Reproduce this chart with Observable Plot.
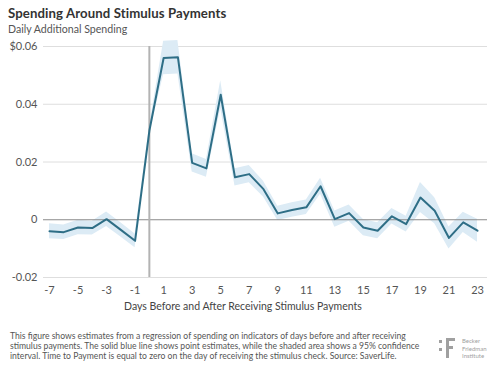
<!DOCTYPE html>
<html>
<head>
<meta charset="utf-8">
<script src="https://cdn.jsdelivr.net/npm/d3@7"></script>
<script src="https://cdn.jsdelivr.net/npm/@observablehq/plot@0.6"></script>
<style>
  body { margin: 0; background: #fff; width: 500px; height: 368px; overflow: hidden; font-family: Lato, "Open Sans", sans-serif; }
  #wrap { position: relative; width: 500px; height: 368px; }
  #title { position: absolute; left: 8px; top: 5px; font-size: 13.2px; font-weight: 700; color: #333; letter-spacing: 0.1px; }
  #subtitle { position: absolute; left: 8px; top: 23px; font-size: 10.6px; color: #555; }
  #chart { position: absolute; left: 0; top: 38px; }
  #xlabel { position: absolute; left: 0; width: 486px; text-align: center; top: 300px; font-size: 10.5px; color: #444; }
  #caption { position: absolute; left: 10px; top: 331px; font-size: 8.6px; line-height: 10px; color: #555; width: 420px; white-space: nowrap; }
  #logo { position: absolute; left: 438px; top: 336px; }
</style>
</head>
<body>
<div id="wrap">
  <div id="title">Spending Around Stimulus Payments</div>
  <div id="subtitle">Daily Additional Spending</div>
  <div id="chart"></div>
  <div id="xlabel"></div>
  <div id="caption">This figure shows estimates from a regression of spending on indicators of days before and after receiving<br>stimulus payments. The solid blue line shows point estimates, while the shaded area shows a 95% confidence<br>interval. Time to Payment is equal to zero on the day of receiving the stimulus check. Source: SaverLife.</div>
  <svg id="logo" width="60" height="26">
    <rect x="1" y="4" width="3" height="3" fill="#a0a0a0"/>
    <rect x="1" y="12" width="3" height="3" fill="#a0a0a0"/>
    <rect x="8" y="2" width="3" height="20" fill="#a0a0a0"/>
    <rect x="8" y="2" width="9" height="3" fill="#a0a0a0"/>
    <rect x="8" y="10" width="7" height="3" fill="#a0a0a0"/>
    <text x="24" y="7" font-size="6" fill="#a0a0a0" font-family="Lato, sans-serif">Becker</text>
    <text x="24" y="14.5" font-size="6" fill="#a0a0a0" font-family="Lato, sans-serif">Friedman</text>
    <text x="24" y="22" font-size="6" fill="#a0a0a0" font-family="Lato, sans-serif">Institute</text>
  </svg>
</div>
<script>
const days = [-7,-6,-5,-4,-3,-2,-1,0,1,2,3,4,5,6,7,8,9,10,11,12,13,14,15,16,17,18,19,20,21,22,23];
const estimates = [-0.0040,-0.0043,-0.0027,-0.0029,0.0002,-0.0035,-0.0073,0.0308,0.0560,0.0563,0.0197,0.0178,0.0433,0.0147,0.0158,0.0106,0.0022,0.0034,0.0043,0.0116,0.0002,0.0023,-0.0027,-0.0038,0.0012,-0.0015,0.0077,0.0031,-0.0063,-0.0009,-0.0038];
const ciHalf = [0.0026,0.0025,0.0025,0.0024,0.0025,0.0025,0.0024,0.0012,0.0058,0.0058,0.0032,0.0031,0.0048,0.0030,0.0030,0.0027,0.0025,0.0025,0.0025,0.0028,0.0028,0.0028,0.0028,0.0028,0.0027,0.0027,0.0052,0.0045,0.0038,0.0035,0.0040];
const xTicks = [-7,-5,-3,-1,1,3,5,7,9,11,13,15,17,19,21,23];
const yTicks = [-0.02,0,0.02,0.04,0.06];
const yTickLabels = ["-0.02","0","0.02","0.04","$0.06"];
const xLabel = "Days Before and After Receiving Stimulus Payments";

document.getElementById("xlabel").textContent = xLabel;

const data = days.map((d,i) => ({day: d, est: estimates[i], lo: estimates[i]-ciHalf[i], hi: estimates[i]+ciHalf[i]}));
const yFmt = (d) => yTickLabels[yTicks.findIndex(t => Math.abs(t-d) < 1e-9)];

const chart = Plot.plot({
  width: 500,
  height: 280,
  marginTop: 8,
  marginBottom: 41,
  marginLeft: 43,
  marginRight: 13,
  style: {fontFamily: "Lato, 'Open Sans', sans-serif", fontSize: "11px", color: "#555", background: "transparent"},
  x: {domain: [-7.42, 23.70], label: null},
  y: {domain: [-0.02, 0.06], label: null},
  marks: [
    Plot.ruleY(yTicks.filter(t => t !== 0), {stroke: "#dedede", strokeWidth: 1}),
    Plot.areaY(data, {x: "day", y1: "lo", y2: "hi", fill: "#dcebf5", fillOpacity: 1}),
    Plot.ruleY([0], {stroke: "#8a8a8a", strokeWidth: 1}),
    Plot.ruleX([0], {stroke: "#b3b3b3", strokeWidth: 2}),
    Plot.line(data, {x: "day", y: "est", stroke: "#2e6e86", strokeWidth: 2}),
    Plot.axisX({ticks: xTicks, tickSize: 0, tickPadding: 9, tickFormat: d => String(d), label: null, fill: "#555"}),
    Plot.axisY({ticks: yTicks, tickSize: 0, tickPadding: 6, label: null, fill: "#555", tickFormat: yFmt})
  ]
});
document.getElementById("chart").appendChild(chart);
</script>
</body>
</html>
